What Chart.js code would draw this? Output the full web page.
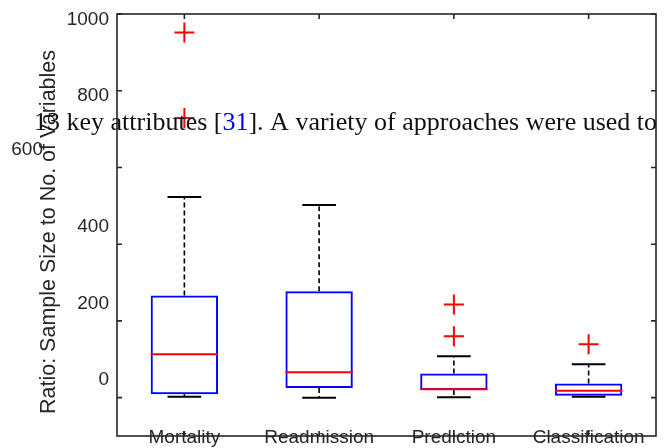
<!DOCTYPE html>
<html>
<head>
<meta charset="utf-8">
<script src="https://cdn.jsdelivr.net/npm/chart.js@4.4.1/dist/chart.umd.min.js"></script>
<style>
	html, body { margin: 0; padding: 0; background: #fff; overflow: hidden; }
	#wrap { width: 668px; height: 448px; position: relative; }
</style>
</head>
<body>
<div id="wrap"><canvas id="chart" width="668" height="448"></canvas></div>
<script>
// categories and box statistics
const categories = ['Mortality', 'Readmission', 'Prediction', 'Classification'];
const lowerWhisker = [2, 0, 1, 2];
const q1 = [9, 25, 20, 5];
const median = [113, 66, 22, 18];
const q3 = [266, 277, 63, 37];
const upperWhisker = [523, 502, 108, 87];
const outliers = [
	{ x: 'Mortality', y: 952 },
	{ x: 'Mortality', y: 729 },
	{ x: 'Prediction', y: 243 },
	{ x: 'Prediction', y: 160 },
	{ x: 'Classification', y: 139 },
];

// y axis ticks
const yTickValues = [0, 200, 400, 600, 800, 1000];
const yTickLabels = ['0', '200', '400', '600', '800', '1000'];

const yTitle = 'Ratio: Sample Size to No. of Variables';
const overlayParts = [
	{ text: '13 key attributes [', color: '#111' },
	{ text: '31', color: '#0000ff' },
	{ text: ']. A variety of approaches were used to', color: '#111' },
];

// layout bits (the tick labels in the picture are not sitting on their ticks)
const axisColor = '#262626';
const sansFont = '"Liberation Sans", Arial, sans-serif';
const tickLabelPlace = [
	{ dx: 0, dy: -12.4 },   // 0
	{ dx: 0, dy: -12.3 },   // 200
	{ dx: 0, dy: -12.4 },   // 400
	{ dx: -66, dy: -12.7 }, // 600
	{ dx: 0, dy: 10 },      // 800
	{ dx: 0, dy: 11 },      // 1000
];

// whiskers, medians, frame, ticks and text
let boxPlotExtras = {
	id: 'boxPlotExtras',
	afterDatasetsDraw (chart) {
		let { ctx, chartArea, scales } = chart;
		let xs = scales.x;
		let ys = scales.y;
		let bars = chart.getDatasetMeta(0).data;

		ctx.save();

		categories.forEach((cat, i) => {
			let cx = xs.getPixelForValue(i);
			let half = bars[i].width / 2;
			let capHalf = half / 2;

			// dashed whiskers
			ctx.strokeStyle = '#000';
			ctx.lineWidth = 1.6;
			ctx.setLineDash([5, 3]);
			ctx.beginPath();
			ctx.moveTo(cx, ys.getPixelForValue(q3[i]));
			ctx.lineTo(cx, ys.getPixelForValue(upperWhisker[i]));
			ctx.moveTo(cx, ys.getPixelForValue(q1[i]));
			ctx.lineTo(cx, ys.getPixelForValue(lowerWhisker[i]));
			ctx.stroke();
			ctx.setLineDash([]);

			// caps
			ctx.lineWidth = 2;
			ctx.beginPath();
			ctx.moveTo(cx - capHalf, ys.getPixelForValue(upperWhisker[i]));
			ctx.lineTo(cx + capHalf, ys.getPixelForValue(upperWhisker[i]));
			ctx.moveTo(cx - capHalf, ys.getPixelForValue(lowerWhisker[i]));
			ctx.lineTo(cx + capHalf, ys.getPixelForValue(lowerWhisker[i]));
			ctx.stroke();

			// median
			ctx.strokeStyle = '#ff0000';
			ctx.beginPath();
			ctx.moveTo(cx - half, ys.getPixelForValue(median[i]));
			ctx.lineTo(cx + half, ys.getPixelForValue(median[i]));
			ctx.stroke();
		});

		// frame
		ctx.strokeStyle = axisColor;
		ctx.lineWidth = 1.6;
		ctx.strokeRect(chartArea.left, chartArea.top, chartArea.right - chartArea.left, chartArea.bottom - chartArea.top);

		// inward ticks
		ctx.beginPath();
		yTickValues.forEach((v) => {
			let y = ys.getPixelForValue(v);
			ctx.moveTo(chartArea.left, y);
			ctx.lineTo(chartArea.left + 5, y);
			ctx.moveTo(chartArea.right, y);
			ctx.lineTo(chartArea.right - 5, y);
		});
		categories.forEach((cat, i) => {
			let x = xs.getPixelForValue(i);
			ctx.moveTo(x, chartArea.top);
			ctx.lineTo(x, chartArea.top + 5);
			ctx.moveTo(x, chartArea.bottom);
			ctx.lineTo(x, chartArea.bottom - 5);
		});
		ctx.stroke();

		// y tick labels
		ctx.fillStyle = axisColor;
		ctx.font = '19px ' + sansFont;
		ctx.textAlign = 'right';
		ctx.textBaseline = 'alphabetic';
		yTickValues.forEach((v, i) => {
			let p = tickLabelPlace[i];
			ctx.fillText(yTickLabels[i], chartArea.left - 8 + p.dx, ys.getPixelForValue(v) + p.dy);
		});

		// x labels (cut by the bottom edge, overlapping the axis line)
		ctx.textAlign = 'center';
		categories.forEach((cat, i) => {
			ctx.fillText(cat, xs.getPixelForValue(i), chartArea.bottom + 7);
		});

		// y title
		ctx.save();
		ctx.translate(55, (chartArea.top + chartArea.bottom) / 2 + 7);
		ctx.rotate(-Math.PI / 2);
		ctx.font = '21.5px ' + sansFont;
		ctx.textAlign = 'center';
		ctx.fillText(yTitle, 0, 0);
		ctx.restore();

		// stray line of body text sitting over the figure
		ctx.font = '26px "Liberation Serif", "Times New Roman", serif';
		ctx.textAlign = 'left';
		let tx = 34;
		overlayParts.forEach((part) => {
			ctx.fillStyle = part.color;
			ctx.fillText(part.text, tx, 130);
			tx += ctx.measureText(part.text).width;
		});

		ctx.restore();
	},
};

new Chart(document.getElementById('chart'), {
	type: 'bar',
	data: {
		labels: categories,
		datasets: [
			{
				type: 'bar',
				data: categories.map((c, i) => [q1[i], q3[i]]),
				backgroundColor: 'rgba(0,0,0,0)',
				borderColor: '#0000ff',
				borderWidth: 2,
				borderSkipped: false,
				barPercentage: 0.5,
				categoryPercentage: 1,
				order: 2,
			},
			{
				type: 'line',
				data: outliers,
				showLine: false,
				pointStyle: 'cross',
				pointRadius: 10,
				pointBorderColor: '#ff0000',
				pointBorderWidth: 2,
				order: 1,
			},
		],
	},
	options: {
		responsive: false,
		animation: false,
		events: [],
		layout: {
			padding: { left: 117, right: 11, top: 14, bottom: 9 },
		},
		plugins: {
			legend: { display: false },
			tooltip: { enabled: false },
		},
		scales: {
			x: { display: false },
			y: { display: false, min: -100, max: 1000 },
		},
	},
	plugins: [ boxPlotExtras ],
});
</script>
</body>
</html>
